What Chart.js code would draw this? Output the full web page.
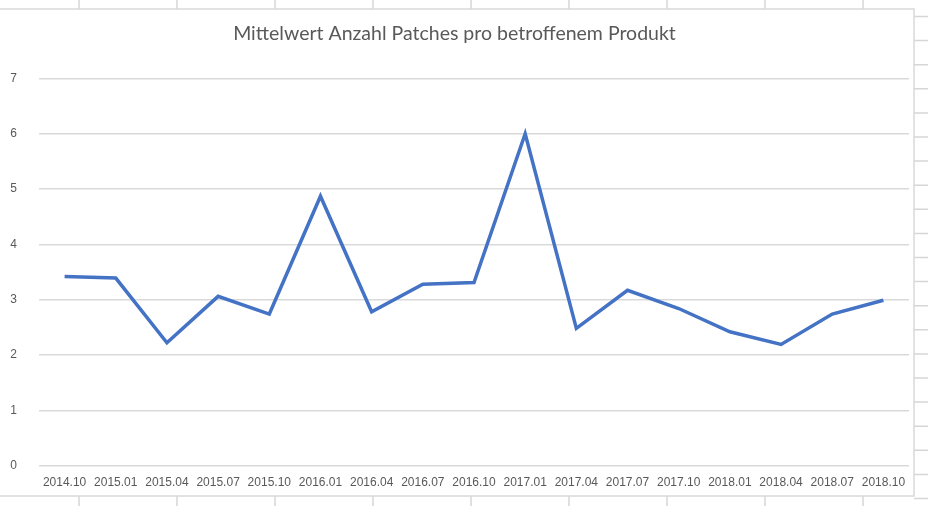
<!DOCTYPE html>
<html>
<head>
<meta charset="utf-8">
<script src="https://cdn.jsdelivr.net/npm/chart.js@4"></script>
<style>
  html, body { margin: 0; padding: 0; background: #fff; }
  #wrap { width: 928px; height: 506px; position: relative; }
</style>
</head>
<body>
<div id="wrap"><canvas id="chart" width="928" height="506"></canvas></div>
<script>
const categories = ['2014.10', '2015.01', '2015.04', '2015.07', '2015.10', '2016.01', '2016.04', '2016.07', '2016.10',
    '2017.01', '2017.04', '2017.07', '2017.10', '2018.01', '2018.04', '2018.07', '2018.10'];
const meanPatches = [3.42, 3.39, 2.22, 3.06, 2.74, 4.87, 2.78, 3.28, 3.31, 6.0, 2.48, 3.17, 2.84, 2.42, 2.19, 2.74, 2.99];
const yTicks = [0, 1, 2, 3, 4, 5, 6, 7];

// spreadsheet cells behind the chart object
const sheetBackground = {
    id: 'sheetBackground',
    beforeDraw(chart) {
        const ctx = chart.ctx;
        ctx.save();
        ctx.fillStyle = '#fff';
        ctx.fillRect(0, 0, chart.width, chart.height);
        ctx.strokeStyle = '#d6d6d6';
        ctx.lineWidth = 1.5;
        ctx.beginPath();
        for (let x = 79; x < 914; x += 98) {
            ctx.moveTo(x, 0); ctx.lineTo(x, 9);
            ctx.moveTo(x, 496); ctx.lineTo(x, chart.height);
        }
        for (let y = 16.5; y < chart.height; y += 24.1) {
            ctx.moveTo(914, y); ctx.lineTo(chart.width, y);
        }
        ctx.stroke();
        // chart object frame
        ctx.fillStyle = '#fff';
        ctx.fillRect(-2, 9, 916, 487);
        ctx.strokeStyle = '#d9d9d9';
        ctx.strokeRect(-2, 9, 916, 487);
        ctx.restore();
    }
};

new Chart(document.getElementById('chart'), {
    type: 'line',
    data: {
        labels: categories,
        datasets: [{
            label: 'Mittelwert',
            data: meanPatches,
            borderColor: '#4472C4',
            backgroundColor: '#4472C4',
            borderWidth: 3.5,
            pointRadius: 0,
            tension: 0,
            borderJoinStyle: 'miter'
        }]
    },
    options: {
        responsive: false,
        animation: false,
        layout: { padding: { top: 10, right: 19, bottom: 6, left: 0 } },
        plugins: {
            legend: { display: false },
            tooltip: { enabled: false },
            title: {
                display: true,
                text: 'Mittelwert Anzahl Patches pro betroffenem Produkt',
                color: '#595959',
                font: { family: 'Lato', size: 19.5, weight: 'normal' },
                padding: { top: 12, bottom: 33 }
            }
        },
        scales: {
            x: {
                offset: true,
                grid: { display: false, drawTicks: false },
                border: { display: false },
                ticks: {
                    color: '#595959',
                    font: { family: 'Liberation Sans', size: 12 },
                    padding: 10,
                    maxRotation: 0,
                    autoSkip: false
                }
            },
            y: {
                min: 0,
                max: 7,
                afterFit(scale) { scale.width = 39; },
                afterBuildTicks(scale) { scale.ticks = yTicks.map(v => ({ value: v })); },
                grid: { color: '#d9d9d9', lineWidth: 1.5, drawTicks: false },
                border: { display: false },
                ticks: {
                    color: '#595959',
                    font: { family: 'Liberation Sans', size: 12 },
                    padding: 22
                }
            }
        }
    },
    plugins: [sheetBackground]
});
</script>
</body>
</html>
